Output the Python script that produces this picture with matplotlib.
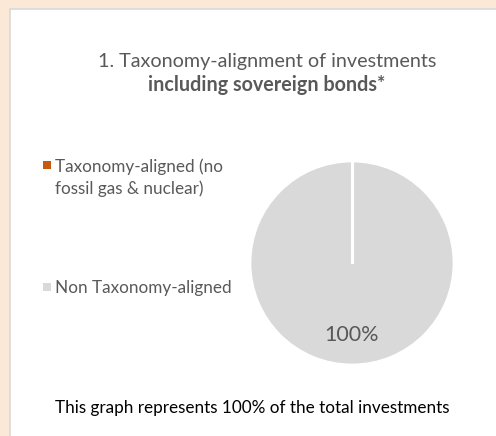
import numpy as np
import matplotlib.pyplot as plt
from matplotlib.patches import Rectangle
from matplotlib.legend_handler import HandlerPatch

labels = ['Taxonomy-aligned (no\nfossil gas & nuclear)', 'Non Taxonomy-aligned']
values = [0, 100]
colors = ['#C55A11', '#D9D9D9']

title_1 = '1. Taxonomy-alignment of investments'
title_2 = 'including sovereign bonds*'
footer = 'This graph represents 100% of the total investments'

W, H = 496, 436
plt.rcParams['font.family'] = ['Lato', 'DejaVu Sans']

fig = plt.figure(figsize=(W / 100, H / 100), dpi=100, facecolor='#FCE8D6')

# white panel with light grey border
fig.patches.append(Rectangle((10 / W, -0.1), 1.2, 1.1 - 9 / H, transform=fig.transFigure,
                             facecolor='white', edgecolor='#D9D9D9', linewidth=1.2, zorder=-5))

fig.text(267 / W, 1 - 61 / H, title_1, ha='center', va='center', fontsize=14.2, color='#595959')
fig.text(267 / W, 1 - 85 / H, title_2, ha='center', va='center', fontsize=14.2, color='#595959',
         fontweight='bold')

ax = fig.add_axes([250 / W, 71 / H, 204 / W, 204 / H])


def pct(p):
    return f'{p:.0f}%' if p > 0 else ''


wedges, _, autotexts = ax.pie(values, colors=colors, startangle=90, counterclock=False,
                              autopct=pct, pctdistance=0.71,
                              wedgeprops=dict(edgecolor='white', linewidth=2))
for t in autotexts:
    t.set_fontsize(15.5)
    t.set_color('#595959')

# slice borders: a full 360 deg wedge has no radial edge, so draw the boundaries
for w in wedges:
    for ang in (w.theta1, w.theta2):
        a = np.deg2rad(ang)
        cx, cy = w.center
        ax.plot([cx, cx + w.r * np.cos(a)], [cy, cy + w.r * np.sin(a)],
                color='white', lw=2.2, solid_capstyle='butt')
ax.set_xlim(-1, 1)
ax.set_ylim(-1, 1)
ax.set_aspect('equal')

LEG_FS = 12.3
LINESP = 1.38


class TopSquare(HandlerPatch):
    # put the little square next to the first line of a wrapped label
    def __init__(self, extra_lines=0):
        super().__init__()
        self.extra_lines = extra_lines

    def create_artists(self, legend, orig_handle, xdescent, ydescent, width, height,
                       fontsize, trans):
        s = 0.45 * fontsize
        y = -ydescent + (height + ydescent - s) / 2 + self.extra_lines * 0.8 * fontsize
        p = Rectangle((-xdescent, y), s, s, facecolor=orig_handle.get_facecolor(),
                      edgecolor='none', transform=trans)
        return [p]


hmap = {w: TopSquare(lab.count('\n')) for w, lab in zip(wedges, labels)}
leg = fig.legend(wedges, labels, loc='upper left', bbox_to_anchor=(28 / W, 1 - 143 / H),
                 frameon=False, fontsize=LEG_FS, labelcolor='#595959', handlelength=0.45,
                 handleheight=0.45, handletextpad=0.25, labelspacing=4.85, handler_map=hmap)
for t in leg.get_texts():
    t.set_linespacing(LINESP)

fig.text(252 / W, 1 - 408 / H, footer, ha='center', va='center', fontsize=12.3, color='black')

fig.savefig('out.png', dpi=100, facecolor=fig.get_facecolor())
